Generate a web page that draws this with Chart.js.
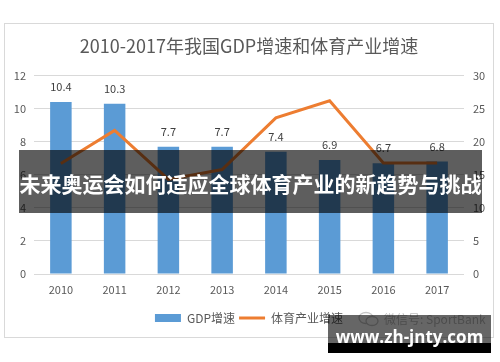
<!DOCTYPE html>
<html>
<head>
<meta charset="utf-8">
<script src="https://cdn.jsdelivr.net/npm/chart.js@4.4.0/dist/chart.umd.min.js"></script>
<style>
  html, body { margin: 0; padding: 0; background: #fff; }
  body { width: 500px; height: 362px; position: relative; overflow: hidden;
         font-family: "Noto Sans CJK SC", "Noto Sans", sans-serif; }
  #frame { position: absolute; left: 4px; top: 23px; width: 490px; height: 315px;
           border: 1px solid #d9d9d9; box-sizing: border-box; }
  #banner { position: absolute; left: 19px; top: 150px; width: 463px; height: 63px;
            background: rgba(0,0,0,0.63); color: #fff; font-weight: bold; font-size: 21px;
            text-align: center; line-height: 66px; white-space: nowrap; }
  #wechatIcon { position: absolute; left: 357px; top: 311px; }
  #wechat { position: absolute; left: 384px; top: 310px; font-size: 12px; color: #bfbfbf; }
  #markBox { position: absolute; left: 328px; top: 315px; width: 163px; height: 28px;
             background: rgba(0,0,0,0.6); }
  #markStrip { position: absolute; left: 328px; top: 343px; width: 163px; height: 10px; background: #000; }
  #markText { position: absolute; left: 328px; top: 323px; width: 163px; height: 28px;
              line-height: 28px; text-align: center; color: #fff; font-weight: bold; font-size: 17px;
              font-family: "Open Sans", "Noto Sans", sans-serif; }
</style>
</head>
<body>
<div id="frame"><canvas id="chart"></canvas></div>
<div id="banner">未来奥运会如何适应全球体育产业的新趋势与挑战</div>
<svg id="wechatIcon" width="24" height="16" viewBox="0 0 24 16">
  <ellipse cx="9" cy="7" rx="7" ry="5.5" fill="none" stroke="#c8c8c8" stroke-width="1.3"/>
  <ellipse cx="15" cy="10" rx="6" ry="4.5" fill="#fff" stroke="#c8c8c8" stroke-width="1.3"/>
</svg>
<div id="wechat">微信号: SportBank</div>
<div id="markBox"></div>
<div id="markStrip"></div>
<div id="markText">www.zh-jnty.com</div>

<script>
/* ---------- DATA ---------- */
const years = ["2010", "2011", "2012", "2013", "2014", "2015", "2016", "2017"];
const gdpGrowth = [10.4, 10.3, 7.7, 7.7, 7.4, 6.9, 6.7, 6.8];
const sportGrowth = [16.7, 21.7, 14.3, 15.8, 23.6, 26.2, 16.8, 16.8];
const leftTicks = [0, 2, 4, 6, 8, 10, 12];
const rightTicks = [0, 5, 10, 15, 20, 25, 30];

const BLUE = "#5b9bd5";
const ORANGE = "#ed7d31";
const GRID = "#d9d9d9";
const TEXT = "#595959";

Chart.defaults.font.family = '"Noto Sans CJK SC", "Noto Sans", sans-serif';
Chart.defaults.color = TEXT;

/* ---------- value labels over bars ---------- */
const barLabels = {
  id: "barLabels",
  afterDatasetsDraw(chart) {
    const ctx = chart.ctx;
    const meta = chart.getDatasetMeta(1);
    ctx.save();
    ctx.font = '11px "Noto Sans CJK SC", "Noto Sans", sans-serif';
    ctx.fillStyle = "#404040";
    ctx.textAlign = "center";
    ctx.textBaseline = "middle";
    meta.data.forEach((bar, i) => {
      ctx.fillText(gdpGrowth[i].toFixed(1), bar.x, bar.y - 15);
    });
    ctx.restore();
  }
};

new Chart(document.getElementById("chart"), {
  type: "bar",
  data: {
    labels: years,
    datasets: [
      {
        type: "line",
        label: "体育产业增速",
        data: sportGrowth,
        yAxisID: "y1",
        borderColor: ORANGE,
        backgroundColor: ORANGE,
        borderWidth: 3,
        pointRadius: 0,
        tension: 0,
        order: 0
      },
      {
        label: "GDP增速",
        data: gdpGrowth,
        yAxisID: "y",
        backgroundColor: BLUE,
        borderWidth: 0,
        barPercentage: 0.8,
        categoryPercentage: 0.5,
        order: 1
      }
    ]
  },
  options: {
    responsive: true,
    maintainAspectRatio: false,
    animation: false,
    layout: { padding: { bottom: 3 } },
    plugins: {
      title: {
        display: true,
        text: "2010-2017年我国GDP增速和体育产业增速",
        color: TEXT,
        font: { size: 18, weight: "normal" },
        padding: { top: 11, bottom: 19 }
      },
      legend: {
        position: "bottom",
        reverse: true,
        labels: {
          usePointStyle: true,
          pointStyleWidth: 26,
          boxHeight: 8,
          padding: 4,
          color: TEXT,
          font: { size: 12 },
          generateLabels(chart) {
            const items = Chart.defaults.plugins.legend.labels.generateLabels(chart);
            items.forEach(it => {
              if (it.datasetIndex === 1) {
                it.pointStyle = "rect"; it.lineWidth = 0; it.fillStyle = BLUE; it.strokeStyle = BLUE;
              } else {
                it.pointStyle = "line"; it.lineWidth = 3; it.strokeStyle = ORANGE;
              }
            });
            return items;
          }
        }
      },
      tooltip: { enabled: false }
    },
    scales: {
      x: {
        grid: { display: false, drawTicks: false },
        border: { display: false },
        ticks: { padding: 9, font: { size: 11 }, color: TEXT },
        afterFit: s => { s.height = 34; }
      },
      y: {
        position: "left",
        min: 0,
        max: 12,
        afterBuildTicks: s => { s.ticks = leftTicks.map(v => ({ value: v })); },
        grid: { color: GRID, drawTicks: false },
        border: { display: false },
        ticks: { padding: 8, font: { size: 11 }, color: TEXT },
        afterFit: s => { s.width = 29; }
      },
      y1: {
        position: "right",
        min: 0,
        max: 30,
        afterBuildTicks: s => { s.ticks = rightTicks.map(v => ({ value: v })); },
        grid: { drawOnChartArea: false, drawTicks: false },
        border: { display: false },
        ticks: { padding: 9, font: { size: 11 }, color: TEXT },
        afterFit: s => { s.width = 29; }
      }
    }
  },
  plugins: [barLabels]
});
</script>
</body>
</html>
